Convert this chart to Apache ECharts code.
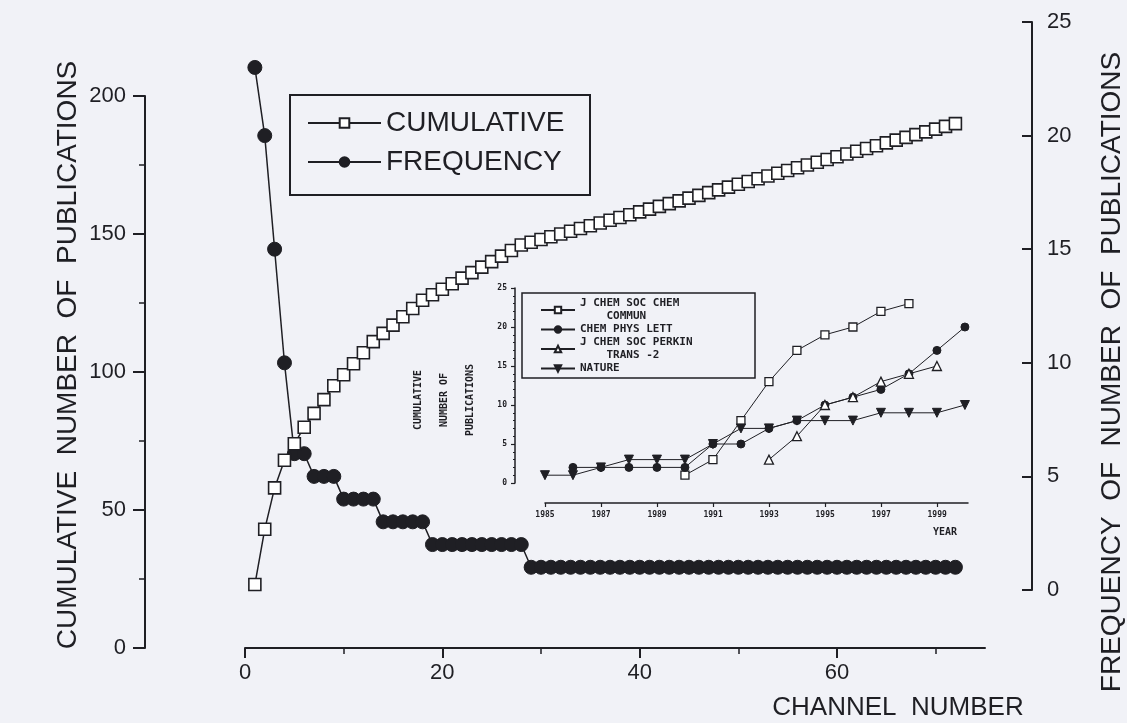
<!DOCTYPE html>
<html>
<head>
<meta charset="utf-8">
<script src="https://cdn.jsdelivr.net/npm/echarts@6/dist/echarts.min.js"></script>
<style>
  html, body { margin: 0; padding: 0; background: #f1f2f7; }
  #chart { width: 1127px; height: 723px; }
</style>
</head>
<body>
<div id="chart"></div>
<script>
// main plot: publications per channel (channel = index + 1)
var frequency = [23, 20, 15, 10, 6, 6, 5, 5, 5, 4, 4, 4, 4, 3, 3, 3, 3, 3,
  2, 2, 2, 2, 2, 2, 2, 2, 2, 2,
  1, 1, 1, 1, 1, 1, 1, 1, 1, 1, 1, 1, 1, 1, 1, 1, 1, 1, 1, 1, 1, 1,
  1, 1, 1, 1, 1, 1, 1, 1, 1, 1, 1, 1, 1, 1, 1, 1, 1, 1, 1, 1, 1, 1];
var cumulative = [23, 43, 58, 68, 74, 80, 85, 90, 95, 99, 103, 107, 111, 114, 117, 120, 123, 126,
  128, 130, 132, 134, 136, 138, 140, 142, 144, 146,
  147, 148, 149, 150, 151, 152, 153, 154, 155, 156, 157, 158,
  159, 160, 161, 162, 163, 164, 165, 166, 167, 168, 169, 170,
  171, 172, 173, 174, 175, 176, 177, 178, 179, 180, 181, 182,
  183, 184, 185, 186, 187, 188, 189, 190];
var channelTicks = [0, 20, 40, 60];
var channelMinorTicks = [10, 30, 50, 70];

// inset: cumulative publications per journal and year
var years = [1985, 1986, 1987, 1988, 1989, 1990, 1991, 1992, 1993, 1994, 1995, 1996, 1997, 1998, 1999, 2000];
var chemCommun = [null, null, null, null, null, 1, 3, 8, 13, 17, 19, 20, 22, 23, null, null];
var chemPhysLett = [null, 2, 2, 2, 2, 2, 5, 5, 7, 8, 10, 11, 12, 14, 17, 20];
var perkinTrans2 = [null, null, null, null, null, null, null, null, 3, 6, 10, 11, 13, 14, 15, null];
var nature = [1, 1, 2, 3, 3, 3, 5, 7, 7, 8, 8, 8, 9, 9, 9, 10];
var yearTicks = [1985, 1987, 1989, 1991, 1993, 1995, 1997, 1999];

var ink = '#1f1f24';
var sans = 'Liberation Sans';
var mono = 'DejaVu Sans Mono';

function pairs(xs, ys) {
  return ys.map(function (v, i) { return [xs[i], v]; });
}
var channels = frequency.map(function (v, i) { return i + 1; });

var chart = echarts.init(document.getElementById('chart'));

var mainLabel = { fontSize: 22, color: ink, fontFamily: sans };
var insetLabel = { fontSize: 8, color: ink, fontFamily: mono, fontWeight: 'bold' };

var option = {
  backgroundColor: '#f1f2f7',
  animation: false,
  grid: [
    { left: 245, top: 96, width: 740, height: 552 },   // cumulative
    { left: 245, top: 22, width: 740, height: 568 },   // frequency
    { left: 515, top: 288, width: 453, height: 195 },  // inset plot
    { left: 545, top: 480, width: 423, height: 23 },   // inset year axis
    { left: 245, top: 96, width: 740, height: 552 }    // minor ticks of channel axis
  ],
  xAxis: [
    {
      gridIndex: 0, type: 'value', min: 0, max: 75,
      axisLine: { onZero: false, lineStyle: { color: ink, width: 2 } },
      axisTick: { customValues: channelTicks, length: 10, lineStyle: { color: ink, width: 2 } },
      axisLabel: Object.assign({ customValues: channelTicks, margin: 14 }, mainLabel),
      splitLine: { show: false }
    },
    { gridIndex: 1, type: 'value', min: 0, max: 75, show: false },
    { gridIndex: 2, type: 'value', min: 1983.93, max: 2000.11, show: false },
    {
      gridIndex: 3, type: 'value', min: 1985, max: 2000.1,
      axisLine: { onZero: false, lineStyle: { color: ink, width: 1.5 } },
      axisTick: { customValues: yearTicks, length: 4, lineStyle: { color: ink, width: 1.2 } },
      axisLabel: Object.assign({
        customValues: yearTicks, margin: 8,
        formatter: function (v) { return String(v); }
      }, insetLabel),
      splitLine: { show: false }
    },
    {
      gridIndex: 4, type: 'value', min: 0, max: 75,
      axisLine: { show: false, onZero: false },
      axisTick: { customValues: channelMinorTicks, length: 6, lineStyle: { color: ink, width: 1.5 } },
      axisLabel: { show: false },
      splitLine: { show: false }
    }
  ],
  yAxis: [
    {
      gridIndex: 0, type: 'value', min: 0, max: 200, interval: 50, position: 'left', offset: 100,
      axisLine: { show: true, onZero: false, lineStyle: { color: ink, width: 2 } },
      axisTick: { show: true, length: 12, lineStyle: { color: ink, width: 2 } },
      minorTick: { show: true, splitNumber: 2, length: 6, lineStyle: { color: ink, width: 1.5 } },
      axisLabel: Object.assign({ margin: 19 }, mainLabel),
      splitLine: { show: false }
    },
    {
      gridIndex: 1, type: 'value', min: 0, max: 25, interval: 5, position: 'right', offset: 47,
      axisLine: { show: true, onZero: false, lineStyle: { color: ink, width: 2 } },
      axisTick: { show: true, inside: true, length: 10, lineStyle: { color: ink, width: 2 } },
      axisLabel: Object.assign({ margin: 15 }, mainLabel),
      splitLine: { show: false }
    },
    {
      gridIndex: 2, type: 'value', min: 0, max: 25, interval: 5,
      axisLine: { show: true, onZero: false, lineStyle: { color: ink, width: 1.5 } },
      axisTick: { show: true, length: 4, lineStyle: { color: ink, width: 1.2 } },
      minorTick: { show: true, splitNumber: 5, length: 2, lineStyle: { color: ink, width: 1 } },
      axisLabel: Object.assign({ margin: 8 }, insetLabel),
      splitLine: { show: false }
    },
    { gridIndex: 3, type: 'value', show: false },
    { gridIndex: 4, type: 'value', show: false }
  ],
  legend: [
    {
      data: ['CUMULATIVE', 'FREQUENCY'], selectedMode: false, orient: 'vertical',
      left: 290, top: 95, padding: [14, 20, 14, 17],
      itemWidth: 73, itemHeight: 12, itemGap: 11,
      textStyle: { fontSize: 28, color: ink, fontFamily: sans }
    },
    {
      data: ['J CHEM SOC CHEM\n    COMMUN', 'CHEM PHYS LETT', 'J CHEM SOC PERKIN\n    TRANS -2', 'NATURE'],
      selectedMode: false, orient: 'vertical',
      left: 522, top: 293, padding: [4, 8, 4, 18],
      itemWidth: 34, itemHeight: 8, itemGap: 0,
      textStyle: { fontSize: 11, lineHeight: 13, color: ink, fontFamily: mono, fontWeight: 'bold' }
    }
  ],
  graphic: [
    { type: 'rect', shape: { x: 290, y: 95, width: 300, height: 100 }, style: { fill: 'none', stroke: ink, lineWidth: 2 } },
    { type: 'rect', shape: { x: 522, y: 293, width: 233, height: 85 }, style: { fill: 'none', stroke: ink, lineWidth: 1.5 } },
    { type: 'text', x: 68, y: 355, rotation: Math.PI / 2,
      style: { text: 'CUMULATIVE  NUMBER  OF  PUBLICATIONS', font: '28px "Liberation Sans"', fill: ink, align: 'center', verticalAlign: 'middle' } },
    { type: 'text', x: 1112, y: 372, rotation: Math.PI / 2,
      style: { text: 'FREQUENCY  OF  NUMBER  OF  PUBLICATIONS', font: '28px "Liberation Sans"', fill: ink, align: 'center', verticalAlign: 'middle' } },
    { type: 'text', x: 898, y: 708,
      style: { text: 'CHANNEL  NUMBER', font: '26px "Liberation Sans"', fill: ink, align: 'center', verticalAlign: 'middle' } },
    { type: 'text', x: 444, y: 400, rotation: Math.PI / 2,
      style: { text: 'CUMULATIVE\nNUMBER OF\nPUBLICATIONS', font: 'bold 10px "DejaVu Sans Mono"', lineHeight: 26, fill: ink, align: 'center', verticalAlign: 'middle' } },
    { type: 'text', x: 957, y: 532,
      style: { text: 'YEAR', font: 'bold 10px "DejaVu Sans Mono"', fill: ink, align: 'right', verticalAlign: 'middle' } }
  ],
  series: [
    {
      name: 'CUMULATIVE', type: 'line', xAxisIndex: 0, yAxisIndex: 0,
      data: pairs(channels, cumulative),
      symbol: 'rect', symbolSize: 12, z: 3,
      itemStyle: { color: '#ffffff', borderColor: ink, borderWidth: 1.6 },
      lineStyle: { color: ink, width: 1.5 }
    },
    {
      name: 'FREQUENCY', type: 'line', xAxisIndex: 1, yAxisIndex: 1,
      data: pairs(channels, frequency),
      symbol: 'circle', symbolSize: 14, z: 2,
      itemStyle: { color: ink, borderColor: ink, borderWidth: 1 },
      lineStyle: { color: ink, width: 1.5 }
    },
    {
      name: 'J CHEM SOC CHEM\n    COMMUN', type: 'line', xAxisIndex: 2, yAxisIndex: 2,
      data: pairs(years, chemCommun), symbol: 'rect', symbolSize: 8,
      itemStyle: { color: '#ffffff', borderColor: ink, borderWidth: 1.3 },
      lineStyle: { color: ink, width: 1 }
    },
    {
      name: 'CHEM PHYS LETT', type: 'line', xAxisIndex: 2, yAxisIndex: 2,
      data: pairs(years, chemPhysLett), symbol: 'circle', symbolSize: 8,
      itemStyle: { color: ink, borderColor: ink, borderWidth: 1 },
      lineStyle: { color: ink, width: 1 }
    },
    {
      name: 'J CHEM SOC PERKIN\n    TRANS -2', type: 'line', xAxisIndex: 2, yAxisIndex: 2,
      data: pairs(years, perkinTrans2), symbol: 'triangle', symbolSize: 9,
      itemStyle: { color: '#ffffff', borderColor: ink, borderWidth: 1.3 },
      lineStyle: { color: ink, width: 1 }
    },
    {
      name: 'NATURE', type: 'line', xAxisIndex: 2, yAxisIndex: 2,
      data: pairs(years, nature), symbol: 'triangle', symbolRotate: 180, symbolSize: 9,
      itemStyle: { color: ink, borderColor: ink, borderWidth: 1 },
      lineStyle: { color: ink, width: 1 }
    }
  ]
};

chart.setOption(option);
window.onresize = chart.resize;
</script>
</body>
</html>
